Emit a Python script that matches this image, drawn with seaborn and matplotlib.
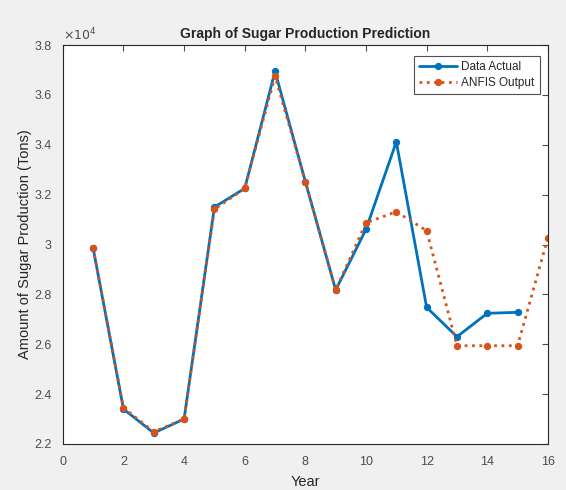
import matplotlib
matplotlib.use("Agg")
import matplotlib.pyplot as plt
import seaborn as sns
import pandas as pd
from matplotlib.ticker import FuncFormatter, MultipleLocator

years_actual = [1, 2, 3, 4, 5, 6, 7, 8, 9, 10, 11, 12, 13, 14, 15]
data_actual = [29850, 23400, 22440, 23000, 31500, 32250, 36950, 32520, 28175,
               30610, 34120, 27480, 26300, 27240, 27280]
years_anfis = [1, 2, 3, 4, 5, 6, 7, 8, 9, 10, 11, 12, 13, 14, 15, 16]
anfis_output = [29850, 23450, 22490, 23000, 31410, 32250, 36750, 32520, 28175,
                30870, 31315, 30555, 25940, 25940, 25940, 30270]

sns.set_style("white")
plt.rcParams['font.family'] = ['Liberation Sans', 'DejaVu Sans']

df_a = pd.DataFrame({"Year": years_actual, "Value": data_actual})
df_b = pd.DataFrame({"Year": years_anfis, "Value": anfis_output})

fig = plt.figure(figsize=(5.66, 4.9), dpi=100, facecolor="#f0f0f0")
ax = fig.add_axes([0.111, 0.094, 0.857, 0.814])
ax.set_facecolor("white")

blue = "#0072BD"
orange = "#D95319"
sns.lineplot(data=df_a, x="Year", y="Value", ax=ax, color=blue, linewidth=2.0,
             marker="o", markersize=4.5, markeredgecolor=blue, label="Data Actual")
sns.lineplot(data=df_b, x="Year", y="Value", ax=ax, color=orange, linewidth=2.0,
             linestyle=":", marker="o", markersize=4.5, markeredgecolor=orange,
             label="ANFIS Output")

ax.set_xlim(0, 16)
ax.set_ylim(22000, 38000)
ax.xaxis.set_major_locator(MultipleLocator(2))
ax.yaxis.set_major_locator(MultipleLocator(2000))
ax.yaxis.set_major_formatter(FuncFormatter(lambda v, p: f"{v/1e4:g}"))

tc = "#4d4d4d"
ax.tick_params(direction="in", length=4, width=0.8, colors=tc, labelsize=9,
               top=True, right=True, labelcolor="#4d4d4d")
ax.tick_params(axis="x", pad=9)
ax.tick_params(axis="y", pad=8)
for s in ax.spines.values():
    s.set_color("#262626")
    s.set_linewidth(0.8)

ax.text(0.0, 1.005, r"$\times10^{4}$", transform=ax.transAxes, ha="left",
        va="bottom", fontsize=9, color=tc)
ax.set_title("Graph of Sugar Production Prediction", fontsize=10,
             fontweight="bold", color="#262626", pad=5)
ax.set_xlabel("Year", fontsize=10.5, color="#262626", labelpad=5)
ax.set_ylabel("Amount of Sugar Production (Tons)", fontsize=10.5, color="#262626",
              labelpad=2)

leg = ax.legend(loc="upper right", fontsize=8.5, frameon=True, fancybox=False,
                edgecolor="#262626", bbox_to_anchor=(0.9835, 0.973),
                borderaxespad=0.0, handlelength=3.2,
                borderpad=0.45, labelspacing=0.3, handletextpad=0.4)
leg.get_frame().set_linewidth(0.8)

fig.savefig("out.png", dpi=100, facecolor=fig.get_facecolor())
